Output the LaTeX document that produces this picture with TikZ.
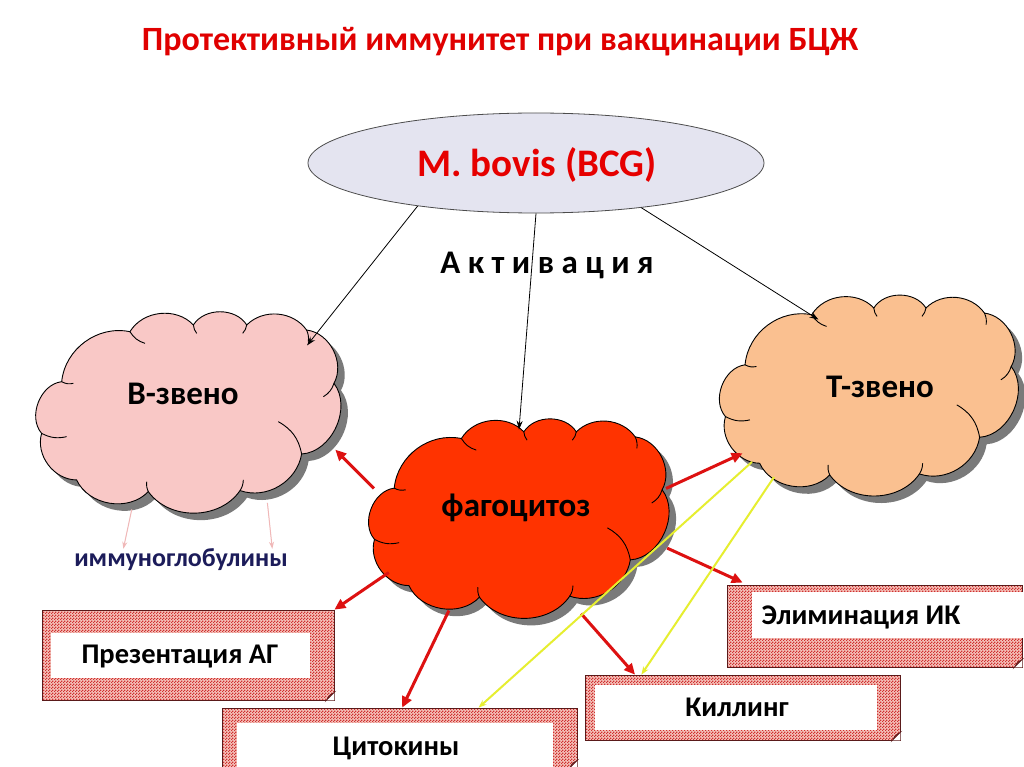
\documentclass[tikz,border=0pt]{standalone}
\usepackage{fontspec}
\setmainfont{Carlito}
\usetikzlibrary{shapes.geometric,patterns,patterns.meta,arrows.meta,calc}
\definecolor{titlered}{HTML}{E00000}
\definecolor{bovisred}{HTML}{E60000}
\definecolor{lav}{HTML}{E4E4F0}
\definecolor{pinkc}{HTML}{F9C8C6}
\definecolor{orangec}{HTML}{FAC090}
\definecolor{redc}{HTML}{FF3300}
\definecolor{arrred}{HTML}{DD1111}
\definecolor{yel}{HTML}{E6EE30}
\definecolor{pinkarr}{HTML}{F0B8B8}
\definecolor{navy}{HTML}{1C1C5A}
\definecolor{boxfill}{HTML}{F4C2BA}
\definecolor{boxdot}{HTML}{D03030}
\definecolor{boxline}{HTML}{5A1A1A}
\definecolor{shadowc}{HTML}{7A7A7A}
\tikzdeclarepattern{
  name=finecheck,
  type=uncolored,
  bounding box={(0pt,0pt) and (3pt,3pt)},
  tile size={(3pt,3pt)},
  code={
    \pgfpathrectangle{\pgfpoint{0pt}{0pt}}{\pgfpoint{1.5pt}{1.5pt}}
    \pgfpathrectangle{\pgfpoint{1.5pt}{1.5pt}}{\pgfpoint{1.5pt}{1.5pt}}
    \pgfusepath{fill}
  }
}
\newcommand\mycloud[5]{%
  \begin{scope}[shift={(#1+7,#2+7)}, x=#3pt, y=-#4pt]
    \fill[shadowc, cloudpath];
  \end{scope}
  \begin{scope}[shift={(#1,#2)}, x=#3pt, y=-#4pt]
    \filldraw[fill=#5, draw=black, line width=0.9pt, cloudpath];
    \draw[line width=0.9pt, cloudarcs];
  \end{scope}}
\begin{document}
\begin{tikzpicture}[x=1pt,y=-1pt,
  cloudpath/.style={insert path={(-0.822,-0.306) to[bend left=48] (-0.383,-0.790)
     to[bend left=53] (0.025,-0.855) to[bend left=58] (0.368,-0.855)
     to[bend left=50] (0.753,-0.806) to[bend left=56] (0.929,-0.290)
     to[bend left=62] (0.721,0.394) to[bend left=50] (0.325,0.748)
     to[bend left=55] (-0.265,0.758) to[bend left=56] (-0.726,0.645)
     to[bend left=53] (-0.951,0.194) to[bend left=62] (-0.822,-0.306) -- cycle}},
  cloudarcs/.style={insert path={
     (-0.79,0.226) to[bend left=20] (-0.951,0.194)
     (-0.747,-0.29) to[bend left=20] (-0.822,-0.306)
     (-0.286,-0.677) to[bend left=20] (-0.383,-0.790)
     (0.046,-0.774) to[bend left=15] (0.025,-0.855)
     (0.342,-0.774) to[bend right=15] (0.368,-0.855)
     (0.764,-0.694) to[bend right=15] (0.753,-0.806)
     (0.861,-0.161) to[bend right=20] (0.929,-0.290)
     (0.571,0.081) to[bend left=25] (0.721,0.394)
     (0.346,0.645) to[bend left=15] (0.325,0.748)
     (-0.275,0.661) to[bend right=15] (-0.265,0.758)}},
  anchornode/.style={ellipse, draw=none, inner sep=0pt},
  cloudtext/.style={font=\fontsize{33}{36}\bfseries\selectfont, text=black},
  outerbox/.style={rectangle, draw=boxline, line width=0.7pt,
    preaction={fill=boxfill}, pattern=finecheck, pattern color=boxdot, inner sep=0pt},
  innerbox/.style={rectangle, fill=white, inner sep=0pt},
  boxtext/.style={font=\fontsize{28.5}{32}\bfseries\selectfont, text=black},
  blk/.style={-{Stealth[length=9pt,width=6pt]}, line width=0.8pt, black},
  redarr/.style={-{Triangle[length=11pt,width=10pt]}, line width=3pt, draw=arrred, fill=arrred},
  yelarr/.style={-{Stealth[length=8pt,width=6pt]}, line width=2pt, draw=yel, fill=yel},
  pinkar/.style={-{Stealth[length=7pt,width=5pt]}, line width=1pt, draw=pinkarr, fill=pinkarr}
]
\useasboundingbox (0,0) rectangle (1024,767);
\fill[white] (0,0) rectangle (1024,767);

% title
\node[font=\fontsize{34}{37}\bfseries\selectfont, text=titlered] (title) at (500,42) {Протективный иммунитет при вакцинации БЦЖ};

% ellipse
\node[ellipse, draw=black!70, line width=0.8pt, fill=lav, minimum width=456pt, minimum height=100pt, inner sep=0pt] (m) at (536,163) {};
\node[font=\fontsize{39}{42}\bfseries\selectfont, text=bovisred] (mtext) at (537,165) {M. bovis (BCG)};

\node[font=\fontsize{33}{36}\bfseries\selectfont] (act) at (547,265) {А к т и в а ц и я};

% clouds
\mycloud{189.5}{413.3}{155.5}{103.3}{pinkc}
\node[anchornode, minimum width=311pt, minimum height=206.6pt] (b) at (189.5,413.3) {};
\node[cloudtext] (btext) at (183,394) {В-звено};
\mycloud{870}{396.5}{152}{103.5}{orangec}
\node[anchornode, minimum width=304pt, minimum height=207pt] (t) at (870,396.5) {};
\node[cloudtext] (ttext) at (880,387) {Т-звено};
\mycloud{520}{519.5}{153}{102.5}{redc}
\node[anchornode, minimum width=306pt, minimum height=205pt] (p) at (520,519.5) {};
\node[cloudtext] (ptext) at (516,508) {фагоцитоз};

\node[font=\fontsize{26}{28}\bfseries\selectfont, text=navy, inner sep=0pt] (imm) at (181,560) {иммуноглобулины};

% boxes
\node[outerbox, minimum width=292pt, minimum height=90pt] (pres) at (188,655) {};
\node[innerbox, minimum width=259pt, minimum height=45pt] (presin) at (180.5,655.5) {};
\node[boxtext] (prestext) at (180,657) {Презентация АГ};

\node[outerbox, minimum width=355pt, minimum height=60pt] (cyt) at (399.5,738) {};
\node[innerbox, minimum width=316pt, minimum height=50pt] (cytin) at (395,748) {};
\node[boxtext] (cyttext) at (396,748) {Цитокины};

\node[outerbox, minimum width=315pt, minimum height=65pt] (kill) at (742.5,707.5) {};
\node[innerbox, minimum width=282pt, minimum height=45pt] (killin) at (736,707.5) {};
\node[boxtext] (killtext) at (737,707) {Киллинг};

\node[outerbox, minimum width=295pt, minimum height=82pt] (elim) at (874.5,626) {};
\node[innerbox, minimum width=272pt, minimum height=46pt] (elimin) at (888,615) {};
\node[boxtext] (elimtext) at (861,617) {Элиминация ИК};

% folded corners
\foreach \bx in {pres,cyt,kill,elim}{
  \fill[white] ($(\bx.south east)+(-8,0)$) -- (\bx.south east) -- ($(\bx.south east)+(0,-8)$) -- cycle;
  \filldraw[fill=boxdot!70!black, draw=boxline, line width=0.6pt]
    ($(\bx.south east)+(-8,0)$) -- ($(\bx.south east)+(0,-8)$) -- ($(\bx.south east)+(-5,-5)$) -- cycle;
}

% black arrows
\draw[blk] (m.200) -- (b.30);
\draw[blk, shorten >=-13pt] (m.south) -- (p.north);
\draw[blk, shorten >=-26pt] (m.337) -- (t.129);

% pink arrows
\draw[pinkar] (b.239) -- (imm.169);
\draw[pinkar] (b.311) -- (imm.7);

% red arrows
\draw[redarr] (p.168) -- (b.346);
\draw[redarr] (p.202) -- (pres.north east);
\draw[redarr] (p.232) -- (cyt.85);
\draw[redarr] (p.303) -- (kill.163);
\draw[redarr, shorten >=5pt] (p.349) -- (elim.162);
\draw[redarr] (p.12) -- (t.204);

% yellow arrows
\draw[yelarr] (t.209) -- (cyt.21);
\draw[yelarr] (t.220) -- (kill.162);
\end{tikzpicture}
\end{document}
